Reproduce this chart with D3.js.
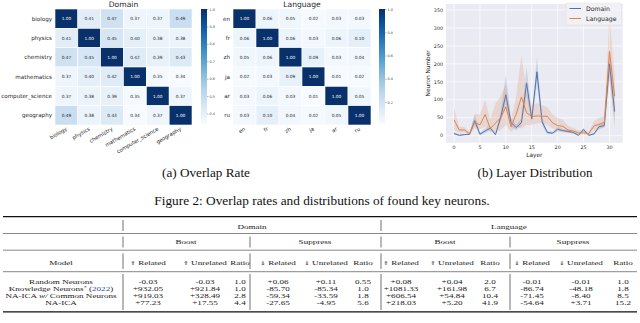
<!DOCTYPE html>
<html>
<head>
<meta charset="utf-8">
<script src="https://cdn.jsdelivr.net/npm/d3@7"></script>
<style>
  body { margin: 0; background: #fff; }
  svg { display: block; }
</style>
</head>
<body>
<div id="figure"></div>
<script>
// ---------- data ----------
const domainLabels = ["biology", "physics", "chemistry", "mathematics", "computer_science", "geography"];
const domainOverlap = [
    [1.00, 0.41, 0.47, 0.37, 0.37, 0.49],
    [0.41, 1.00, 0.45, 0.40, 0.38, 0.38],
    [0.47, 0.45, 1.00, 0.42, 0.39, 0.43],
    [0.37, 0.40, 0.42, 1.00, 0.35, 0.34],
    [0.37, 0.38, 0.39, 0.35, 1.00, 0.37],
    [0.49, 0.38, 0.43, 0.34, 0.37, 1.00]
];
const languageLabels = ["en", "fr", "zh", "ja", "ar", "ru"];
const languageOverlap = [
    [1.00, 0.06, 0.05, 0.02, 0.03, 0.03],
    [0.06, 1.00, 0.06, 0.03, 0.06, 0.10],
    [0.05, 0.06, 1.00, 0.09, 0.03, 0.04],
    [0.02, 0.03, 0.09, 1.00, 0.01, 0.02],
    [0.03, 0.06, 0.03, 0.01, 1.00, 0.05],
    [0.03, 0.10, 0.04, 0.02, 0.05, 1.00]
];
const domainTicks = [0.4, 0.5, 0.6, 0.7, 0.8, 0.9, 1.0];
const languageTicks = [0.2, 0.4, 0.6, 0.8, 1.0];

const layers = [0, 1, 2, 3, 4, 5, 6, 7, 8, 9, 10, 11, 12, 13, 14, 15, 16, 17, 18, 19, 20, 21, 22, 23, 24, 25, 26, 27, 28, 29, 30, 31];
const domainNeurons = [6, 1, 3, 4, 42, 4, 13, 21, 3, 51, 114, 36, 23, 36, 147, 47, 178, 39, 9, 7, 18, 14, 12, 9, 1, 17, 1, 5, 25, 28, 200, 67];
const domainLow     = [2, 0, 1, 2, 30, 1, 8, 15, 1, 40, 85, 25, 15, 28, 110, 35, 145, 28, 5, 4, 12, 10, 8, 6, 0, 12, 0, 2, 18, 22, 170, 35];
const domainHigh    = [10, 3, 5, 6, 60, 8, 20, 28, 6, 65, 170, 50, 30, 48, 190, 60, 220, 50, 14, 10, 24, 18, 16, 12, 3, 22, 3, 8, 32, 35, 240, 100];
const languageNeurons = [44, 16, 16, 6, 38, 30, 59, 20, 35, 50, 80, 25, 60, 108, 64, 53, 55, 54, 54, 36, 28, 26, 16, 13, 8, 8, 6, 27, 32, 37, 235, 110];
const languageLow     = [15, 8, 8, 3, 20, 18, 25, 10, 10, 15, 30, 10, 25, 20, 30, 30, 35, 35, 30, 20, 15, 12, 8, 6, 3, 3, 2, 15, 20, 25, 150, 20];
const languageHigh    = [80, 25, 25, 10, 60, 60, 100, 45, 90, 110, 145, 45, 110, 225, 120, 85, 90, 85, 80, 60, 50, 45, 28, 22, 15, 15, 12, 40, 50, 55, 330, 170];
const layerTicks = [0, 5, 10, 15, 20, 25, 30];
const neuronTicks = [0, 50, 100, 150, 200, 250, 300, 350];

const tableModels = ["Random Neurons", "Knowledge Neurons", "NA-ICA w/ Common Neurons", "NA-ICA"];
const domainBoost = [["-0.03", "-0.03", "1.0"], ["+932.05", "+921.84", "1.0"], ["+919.03", "+328.49", "2.8"], ["+77.23", "+17.55", "4.4"]];
const domainSuppress = [["+0.06", "+0.11", "0.55"], ["-85.70", "-85.34", "1.0"], ["-59.34", "-33.59", "1.8"], ["-27.65", "-4.95", "5.6"]];
const languageBoost = [["+0.08", "+0.04", "2.0"], ["+1081.33", "+161.98", "6.7"], ["+606.54", "+54.84", "10.4"], ["+218.03", "+5.20", "41.9"]];
const languageSuppress = [["-0.01", "-0.01", "1.0"], ["-86.74", "-48.18", "1.8"], ["-71.45", "-8.40", "8.5"], ["-54.64", "+3.71", "15.2"]];
const columnHeaders = ["\u21D1 Related", "\u21D1 Unrelated", "Ratio", "\u21D3 Related", "\u21D3 Unrelated", "Ratio",
    "\u21D1 Related", "\u21D1 Unrelated", "Ratio", "\u21D3 Related", "\u21D3 Unrelated", "Ratio"];

// ---------- canvas ----------
const width = 640, height = 323;
const svg = d3.select("#figure").append("svg")
    .attr("width", width)
    .attr("height", height);
svg.append("rect").attr("width", width).attr("height", height).attr("fill", "#fff");

const sans = "'DejaVu Sans', sans-serif";
const serif = "'Liberation Serif', 'Times New Roman', serif";

// ---------- heatmaps ----------
function drawHeatmap(labels, values, box, title, ticks, cbarX, gradId) {
    const g = svg.append("g");
    const x = d3.scaleBand().domain(d3.range(labels.length)).range([box.left, box.left + box.width]);
    const y = d3.scaleBand().domain(d3.range(labels.length)).range([box.top, box.top + box.height]);
    const flat = values.flat();
    const color = d3.scaleSequential(d3.interpolateBlues).domain([d3.min(flat), d3.max(flat)]);

    const cells = [];
    values.forEach((row, i) => row.forEach((v, j) => cells.push({ i, j, v })));

    g.selectAll("rect.cell")
        .data(cells)
        .enter()
        .append("rect")
        .attr("x", d => x(d.j))
        .attr("y", d => y(d.i))
        .attr("width", x.bandwidth())
        .attr("height", y.bandwidth())
        .attr("fill", d => color(d.v))
        .attr("stroke", "#fff")
        .attr("stroke-width", 0.6);

    g.selectAll("text.annot")
        .data(cells)
        .enter()
        .append("text")
        .attr("x", d => x(d.j) + x.bandwidth() / 2)
        .attr("y", d => y(d.i) + y.bandwidth() / 2 + 1.5)
        .attr("text-anchor", "middle")
        .attr("font-family", sans)
        .attr("font-size", 4.3)
        .attr("fill", d => (d.v - color.domain()[0]) / (color.domain()[1] - color.domain()[0]) > 0.6 ? "#fff" : "#262626")
        .text(d => d.v.toFixed(2));

    // row labels
    g.selectAll("text.row")
        .data(labels)
        .enter()
        .append("text")
        .attr("x", box.left - 3)
        .attr("y", (d, i) => y(i) + y.bandwidth() / 2 + 2)
        .attr("text-anchor", "end")
        .attr("font-family", sans)
        .attr("font-size", 5.6)
        .attr("fill", "#262626")
        .text(d => d);

    // column labels, rotated
    g.selectAll("text.col")
        .data(labels)
        .enter()
        .append("text")
        .attr("transform", (d, i) => `translate(${x(i) + x.bandwidth() / 2 + 1},${box.top + box.height + 5}) rotate(-30)`)
        .attr("text-anchor", "end")
        .attr("font-family", sans)
        .attr("font-size", 5.2)
        .attr("fill", "#262626")
        .text(d => d);

    g.append("text")
        .attr("x", box.left + box.width / 2)
        .attr("y", box.top - 2)
        .attr("text-anchor", "middle")
        .attr("font-family", sans)
        .attr("font-size", 7.6)
        .attr("fill", "#262626")
        .text(title);

    // colorbar
    const cbTop = box.top, cbBottom = box.top + box.height - 1, cbW = 6;
    const grad = svg.append("defs").append("linearGradient")
        .attr("id", gradId)
        .attr("x1", 0).attr("y1", 1).attr("x2", 0).attr("y2", 0);
    d3.range(0, 1.0001, 0.1).forEach(t => {
        grad.append("stop")
            .attr("offset", t)
            .attr("stop-color", d3.interpolateBlues(t));
    });
    g.append("rect")
        .attr("x", cbarX)
        .attr("y", cbTop)
        .attr("width", cbW)
        .attr("height", cbBottom - cbTop)
        .attr("fill", `url(#${gradId})`);

    const cbScale = d3.scaleLinear().domain(color.domain()).range([cbBottom, cbTop]);
    const axis = g.append("g")
        .attr("transform", `translate(${cbarX + cbW},0)`)
        .call(d3.axisRight(cbScale).tickValues(ticks).tickSize(1.5).tickPadding(1).tickFormat(d3.format(".1f")));
    axis.select(".domain").remove();
    axis.selectAll("line").attr("stroke", "#444").attr("stroke-width", 0.4);
    axis.selectAll("text").attr("font-family", sans).attr("font-size", 3.4).attr("fill", "#444");
}

drawHeatmap(domainLabels, domainOverlap, { left: 55, top: 9, width: 137, height: 116 }, "Domain", domainTicks, 201, "gradDomain");
drawHeatmap(languageLabels, languageOverlap, { left: 233, top: 9, width: 138, height: 116 }, "Language", languageTicks, 379, "gradLanguage");

// ---------- layer distribution ----------
const plot = { left: 446, right: 622.7, top: 4, bottom: 142.7 };
const x = d3.scaleLinear().domain([-1.55, 32.55]).range([plot.left, plot.right]);
const y = d3.scaleLinear().domain([-19.5, 366.7]).range([plot.bottom, plot.top]);

const lineG = svg.append("g");
lineG.append("rect")
    .attr("x", plot.left).attr("y", plot.top)
    .attr("width", plot.right - plot.left).attr("height", plot.bottom - plot.top)
    .attr("fill", "#EAEAF2");

lineG.selectAll("line.gy")
    .data(neuronTicks)
    .enter()
    .append("line")
    .attr("x1", plot.left).attr("x2", plot.right)
    .attr("y1", d => y(d)).attr("y2", d => y(d))
    .attr("stroke", "#fff").attr("stroke-width", 0.7);
lineG.selectAll("line.gx")
    .data(layerTicks)
    .enter()
    .append("line")
    .attr("y1", plot.top).attr("y2", plot.bottom)
    .attr("x1", d => x(d)).attr("x2", d => x(d))
    .attr("stroke", "#fff").attr("stroke-width", 0.7);

lineG.selectAll("text.ty")
    .data(neuronTicks)
    .enter()
    .append("text")
    .attr("x", plot.left - 3)
    .attr("y", d => y(d) + 1.7)
    .attr("text-anchor", "end")
    .attr("font-family", sans).attr("font-size", 4.8).attr("fill", "#262626")
    .text(d => d);
lineG.selectAll("text.tx")
    .data(layerTicks)
    .enter()
    .append("text")
    .attr("x", d => x(d))
    .attr("y", plot.bottom + 6.5)
    .attr("text-anchor", "middle")
    .attr("font-family", sans).attr("font-size", 4.8).attr("fill", "#262626")
    .text(d => d);

lineG.append("text")
    .attr("x", (plot.left + plot.right) / 2)
    .attr("y", plot.bottom + 14)
    .attr("text-anchor", "middle")
    .attr("font-family", sans).attr("font-size", 5.8).attr("fill", "#262626")
    .text("Layer");
lineG.append("text")
    .attr("transform", `translate(${plot.left - 16},${(plot.top + plot.bottom) / 2}) rotate(-90)`)
    .attr("text-anchor", "middle")
    .attr("font-family", sans).attr("font-size", 5.8).attr("fill", "#262626")
    .text("Neuron Number");

const series = [
    { name: "Domain", color: "#4C72B0", mid: domainNeurons, low: domainLow, high: domainHigh },
    { name: "Language", color: "#DD8452", mid: languageNeurons, low: languageLow, high: languageHigh }
];

const band = d3.area()
    .x(d => x(d.layer))
    .y0(d => y(d.low))
    .y1(d => y(d.high));
const line = d3.line()
    .x(d => x(d.layer))
    .y(d => y(d.mid));

series.forEach(s => {
    const pts = layers.map((l, i) => ({ layer: l, mid: s.mid[i], low: s.low[i], high: s.high[i] }));
    lineG.append("path")
        .datum(pts)
        .attr("d", band)
        .attr("fill", s.color)
        .attr("fill-opacity", 0.2);
    lineG.append("path")
        .datum(pts)
        .attr("d", line)
        .attr("fill", "none")
        .attr("stroke", s.color)
        .attr("stroke-width", 1);
});

// legend
const legend = lineG.append("g");
legend.append("rect")
    .attr("x", 566).attr("y", 3)
    .attr("width", 55.5).attr("height", 22)
    .attr("rx", 1.5)
    .attr("fill", "#F2F2F6")
    .attr("fill-opacity", 0.85)
    .attr("stroke", "#d8d8d8").attr("stroke-width", 0.4);
series.forEach((s, i) => {
    const ly = 8.5 + i * 10;
    legend.append("line")
        .attr("x1", 569.5).attr("x2", 581)
        .attr("y1", ly).attr("y2", ly)
        .attr("stroke", s.color).attr("stroke-width", 1);
    legend.append("text")
        .attr("x", 586).attr("y", ly + 2.2)
        .attr("font-family", sans).attr("font-size", 6.2).attr("fill", "#262626")
        .text(s.name);
});

// ---------- captions ----------
svg.append("text")
    .attr("x", 206).attr("y", 177)
    .attr("text-anchor", "middle")
    .attr("font-family", serif).attr("font-size", 13.2).attr("fill", "#111")
    .text("(a) Overlap Rate");
svg.append("text")
    .attr("x", 535).attr("y", 177)
    .attr("text-anchor", "middle")
    .attr("font-family", serif).attr("font-size", 13).attr("fill", "#111")
    .text("(b) Layer Distribution");
svg.append("text")
    .attr("x", 322).attr("y", 204.5)
    .attr("text-anchor", "middle")
    .attr("font-family", serif).attr("font-size", 13.3).attr("fill", "#111")
    .text("Figure 2: Overlap rates and distributions of found key neurons.");

// ---------- table ----------
// table text in the figure is wide but short, so glyphs are squeezed vertically
const tbl = svg.append("g")
    .attr("font-family", serif)
    .attr("font-size", 9.1)
    .attr("fill", "#222");
const tLeft = 3, tRight = 637;
const colX = [148, 205, 240, 278, 326, 363, 401, 452, 490, 532, 581, 623];
const rowY = [281.7, 288.8, 295.8, 302.8];

function hRule(yy, w) {
    tbl.append("line")
        .attr("x1", tLeft).attr("x2", tRight)
        .attr("y1", yy).attr("y2", yy)
        .attr("stroke", "#111").attr("stroke-width", w);
}
function vRule(xx, y1, y2) {
    tbl.append("line")
        .attr("x1", xx).attr("x2", xx)
        .attr("y1", y1).attr("y2", y2)
        .attr("stroke", "#111").attr("stroke-width", 0.6);
}
function cellText(xx, yy, str) {
    return tbl.append("text")
        .attr("transform", `translate(${xx},${yy + 2.4}) scale(1,0.72)`)
        .attr("text-anchor", "middle")
        .text(str);
}

hRule(216.7, 1.3);
hRule(233.5, 0.5);
hRule(250.2, 0.5);
hRule(271.7, 0.5);
hRule(311.8, 1.3);

// vertical separators
vRule(123, 220, 231);
vRule(381, 220, 231);
[123, 250, 381, 510].forEach(xx => {
    vRule(xx, 236.5, 247.5);
    vRule(xx, 253.5, 269);
    vRule(xx, 274, 310);
});

cellText(252, 227, "Domain");
cellText(509, 227, "Language");
cellText(186, 241.8, "Boost");
cellText(315, 241.8, "Suppress");
cellText(445, 241.8, "Boost");
cellText(573, 241.8, "Suppress");

cellText(61, 263, "Model");
columnHeaders.forEach((h, i) => {
    const t = cellText(colX[i], 263, "");
    if (h.includes(" ")) {
        const [arrow, word] = h.split(" ");
        t.append("tspan").attr("font-size", 6.8).text(arrow);
        t.append("tspan").text(" " + word);
    } else {
        t.text(h);
    }
});

tableModels.forEach((m, r) => {
    const t = cellText(61, rowY[r], "");
    if (m === "Knowledge Neurons") {
        t.append("tspan").text("Knowledge Neurons");
        t.append("tspan").attr("font-size", 6.2).attr("dy", -3).text("*");
        t.append("tspan").attr("dy", 3).text(" (");
        t.append("tspan").attr("fill", "#2f4fa8").text("2022");
        t.append("tspan").text(")");
    } else if (m.includes("w/")) {
        t.append("tspan").text("NA-ICA ");
        t.append("tspan").attr("font-style", "italic").text("w/");
        t.append("tspan").text(" Common Neurons");
    } else {
        t.text(m);
    }
    const vals = domainBoost[r].concat(domainSuppress[r], languageBoost[r], languageSuppress[r]);
    vals.forEach((v, c) => cellText(colX[c], rowY[r], v));
});
</script>
</body>
</html>
